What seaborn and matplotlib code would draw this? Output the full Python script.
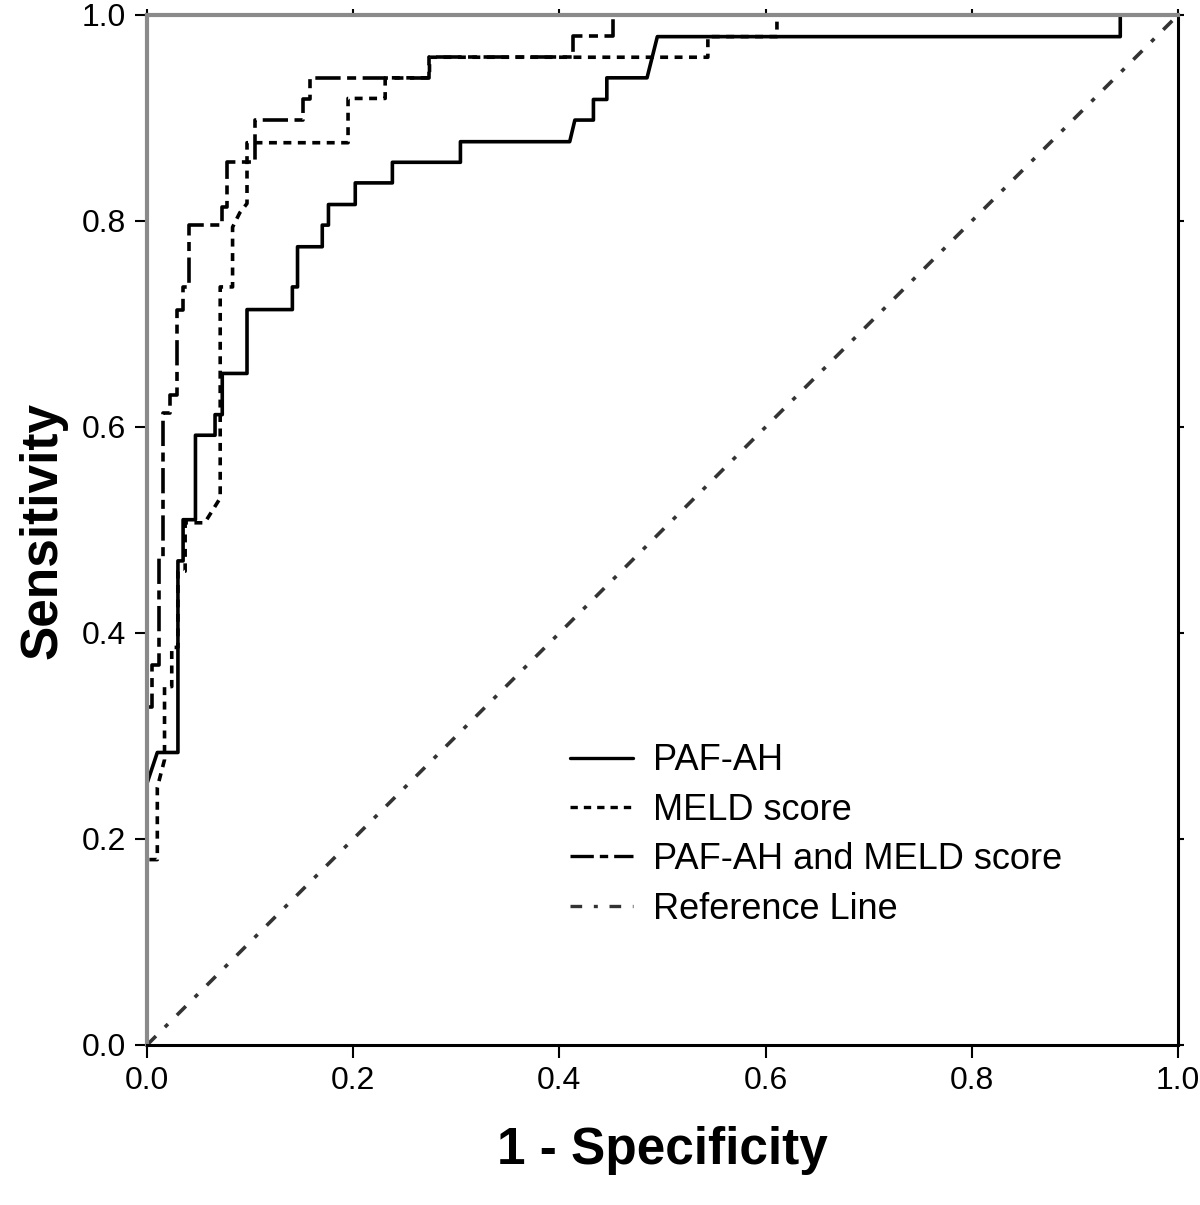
import matplotlib
matplotlib.use("Agg")
import matplotlib.pyplot as plt
import seaborn as sns
import pandas as pd

# ROC curve points (1 - specificity, sensitivity)
paf_fpr = [0.0, 0.0, 0.010, 0.030, 0.030, 0.035, 0.035, 0.047, 0.047, 0.066, 0.066,
           0.073, 0.073, 0.097, 0.097, 0.141, 0.141, 0.146, 0.146, 0.170, 0.170,
           0.176, 0.176, 0.202, 0.202, 0.238, 0.238, 0.304, 0.304, 0.410, 0.415,
           0.433, 0.433, 0.446, 0.446, 0.485, 0.495, 0.944, 0.944, 1.0]
paf_tpr = [0.0, 0.254, 0.284, 0.284, 0.470, 0.470, 0.510, 0.510, 0.592, 0.592, 0.612,
           0.612, 0.652, 0.652, 0.714, 0.714, 0.736, 0.736, 0.775, 0.775, 0.796,
           0.796, 0.816, 0.816, 0.837, 0.837, 0.857, 0.857, 0.877, 0.877, 0.898,
           0.898, 0.918, 0.918, 0.939, 0.939, 0.979, 0.979, 1.0, 1.0]

meld_fpr = [0.0, 0.0, 0.010, 0.010, 0.017, 0.017, 0.024, 0.024, 0.030, 0.030, 0.037,
            0.037, 0.056, 0.071, 0.071, 0.080, 0.083, 0.083, 0.090, 0.097, 0.097,
            0.195, 0.195, 0.231, 0.231, 0.274, 0.274, 0.544, 0.544, 0.611, 0.611, 1.0]
meld_tpr = [0.0, 0.180, 0.180, 0.250, 0.277, 0.348, 0.348, 0.386, 0.386, 0.460, 0.460,
            0.507, 0.507, 0.531, 0.736, 0.736, 0.736, 0.794, 0.808, 0.817, 0.876,
            0.876, 0.919, 0.919, 0.939, 0.939, 0.959, 0.959, 0.979, 0.979, 1.0, 1.0]

comb_fpr = [0.0, 0.0, 0.005, 0.005, 0.012, 0.012, 0.0155, 0.0155, 0.022, 0.022, 0.029,
            0.029, 0.035, 0.035, 0.041, 0.041, 0.073, 0.073, 0.078, 0.078, 0.100,
            0.105, 0.105, 0.151, 0.151, 0.158, 0.158, 0.274, 0.274, 0.413, 0.413,
            0.452, 0.452, 1.0]
comb_tpr = [0.0, 0.328, 0.328, 0.369, 0.369, 0.473, 0.473, 0.614, 0.614, 0.631, 0.631,
            0.714, 0.714, 0.736, 0.736, 0.796, 0.796, 0.814, 0.814, 0.857, 0.857,
            0.857, 0.898, 0.898, 0.918, 0.918, 0.939, 0.939, 0.959, 0.959, 0.980,
            0.980, 1.0, 1.0]

ref_line = [0.0, 1.0]

labels = ["PAF-AH", "MELD score", "PAF-AH and MELD score", "Reference Line"]
ticks = [0.0, 0.2, 0.4, 0.6, 0.8, 1.0]

sns.set_style("white")
plt.rcParams["font.family"] = ["Liberation Sans", "DejaVu Sans"]
plt.rcParams["text.color"] = "black"
plt.rcParams["axes.labelcolor"] = "black"
plt.rcParams["xtick.color"] = "black"
plt.rcParams["ytick.color"] = "black"

fig = plt.figure(figsize=(12, 12.05), dpi=100)
ax = fig.add_axes([147 / 1200, 1 - 1045 / 1205, 1031 / 1200, 1030 / 1205])

curves = [
    (paf_fpr, paf_tpr, labels[0], (None, None), "black"),
    (meld_fpr, meld_tpr, labels[1], (2.2, 1.8), "black"),
    (comb_fpr, comb_tpr, labels[2], (7, 1.8, 2.5, 1.8), "black"),
    (ref_line, ref_line, labels[3], (3.5, 3.5, 1.2, 3.5), "#333333"),
]
for xs, ys, lab, dash, col in curves:
    df = pd.DataFrame({"fpr": xs, "tpr": ys})
    sns.lineplot(data=df, x="fpr", y="tpr", sort=False, estimator=None,
                 color=col, linewidth=2.6, label=lab, ax=ax)
    if dash[0] is not None:
        ax.lines[-1].set_dashes(dash)

ax.set_xlim(0, 1)
ax.set_ylim(0, 1)
ax.set_xticks(ticks)
ax.set_yticks(ticks)
ax.set_xticklabels([f"{t:.1f}" for t in ticks], fontsize=23)
ax.set_yticklabels([f"{t:.1f}" for t in ticks], fontsize=23)
ax.tick_params(axis="both", direction="out", length=9, width=1.5,
               pad=6, bottom=True, left=True)
ax.tick_params(axis="both", which="both", top=True, right=True)
for t in ax.xaxis.get_major_ticks():
    t.tick2line.set_markersize(4)
for t in ax.yaxis.get_major_ticks():
    t.tick2line.set_markersize(4)

ax.set_xlabel("1 - Specificity", fontsize=37, fontweight="bold", labelpad=22)
ax.set_ylabel("Sensitivity", fontsize=37, fontweight="bold", labelpad=10)

for side in ["left", "top"]:
    ax.spines[side].set_color("#8a8a8a")
    ax.spines[side].set_linewidth(3)
for side in ["bottom", "right"]:
    ax.spines[side].set_color("black")
    ax.spines[side].set_linewidth(2.2)

leg = ax.legend(loc="upper left", bbox_to_anchor=(0.41, 0.293), frameon=False,
                fontsize=26, handlelength=1.75, handletextpad=0.55, labelspacing=0.4,
                borderpad=0, borderaxespad=0)
for h in leg.get_lines():
    h.set_linewidth(2.4)

fig.savefig("out.png", dpi=100)
